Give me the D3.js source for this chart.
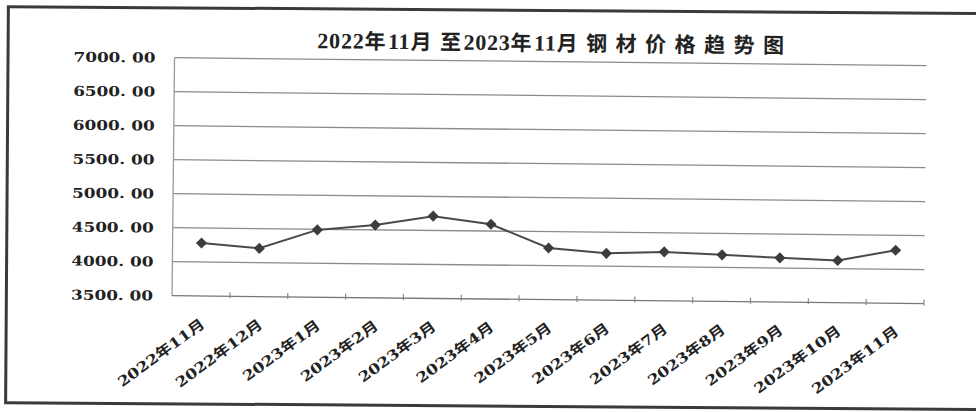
<!DOCTYPE html>
<html>
<head>
<meta charset="utf-8">
<script src="https://d3js.org/d3.v7.min.js"></script>
<style>
  body { margin: 0; background: #fff; }
  svg { display: block; }
</style>
</head>
<body>
<script>
// chart data
var title = "2022年11月至2023年11月钢材价格趋势图";
var months = ["2022年11月", "2022年12月", "2023年1月", "2023年2月", "2023年3月", "2023年4月",
  "2023年5月", "2023年6月", "2023年7月", "2023年8月", "2023年9月", "2023年10月", "2023年11月"];
var prices = [4280, 4210, 4490, 4570, 4710, 4600, 4260, 4190, 4220, 4185, 4150, 4120, 4280];
var yTicks = [3500, 4000, 4500, 5000, 5500, 6000, 6500, 7000];

var width = 976, height = 412;
var svg = d3.select("body").append("svg").attr("width", width).attr("height", height);

//the scanned page is a little crooked
var frame = svg.append("g").attr("transform", "rotate(0.4 488 206)");
frame.append("rect")
  .attr("x", 7).attr("y", 10).attr("width", 1100).attr("height", 396)
  .attr("fill", "none").attr("stroke", "#3a3a3a").attr("stroke-width", 3);

var g = svg.append("g").attr("transform", "rotate(0.6 488 206)");

var x = d3.scaleBand().domain(months).range([173, 925]);
var y = d3.scaleLinear().domain([3500, 7000]).range([299, 61]);

//gridlines
g.selectAll(".grid").data(yTicks.slice(1)).enter().append("line")
  .attr("x1", 173).attr("x2", 925)
  .attr("y1", function(d) { return y(d); }).attr("y2", function(d) { return y(d); })
  .attr("stroke", "#8c8c8c").attr("stroke-width", 1.3);

//axes lines
g.append("line").attr("x1", 173).attr("x2", 173).attr("y1", y(7000)).attr("y2", y(3500))
  .attr("stroke", "#9a9a9a").attr("stroke-width", 1.3);
g.append("line").attr("x1", 173).attr("x2", 925).attr("y1", y(3500)).attr("y2", y(3500))
  .attr("stroke", "#777").attr("stroke-width", 1.3);

//ticks between categories
var bounds = months.map(function(m) { return x(m) + x.bandwidth(); });
g.selectAll(".tick").data(bounds).enter().append("line")
  .attr("x1", function(d) { return d; }).attr("x2", function(d) { return d; })
  .attr("y1", y(3500) - 4).attr("y2", y(3500) + 2)
  .attr("stroke", "#888").attr("stroke-width", 1.2);

//y labels, the font in the scan is very wide
g.selectAll(".ylab").data(yTicks).enter().append("text")
  .attr("x", 154).attr("y", function(d) { return y(d); })
  .attr("dy", "0.37em")
  .attr("text-anchor", "end")
  .attr("textLength", 82).attr("lengthAdjust", "spacingAndGlyphs")
  .attr("font-family", "'DejaVu Serif', serif").attr("font-weight", "bold")
  .attr("font-size", 13.5).attr("fill", "#222")
  .text(function(d) { return d3.format(".2f")(d).replace(".", ". "); });

//x labels
g.selectAll(".xlab").data(months).enter().append("text")
  .attr("transform", function(d) {
    return "translate(" + (x(d) + x.bandwidth() / 2 + 5) + "," + 329 + ") rotate(-37) scale(1.2,1)";
  })
  .attr("text-anchor", "end")
  .attr("font-family", "'DejaVu Serif', 'Noto Sans CJK SC', serif").attr("font-weight", "bold")
  .attr("font-size", 14).attr("fill", "#222")
  .text(function(d) { return d; });

//title: digits narrow, cjk spaced out but tight next to digits
var t = g.append("text").attr("x", 549).attr("y", 50).attr("text-anchor", "middle")
  .attr("font-weight", "bold").attr("fill", "#222");
var runs = title.match(/\d+|\D+/g);
runs.forEach(function(run, k) {
  if (/\d/.test(run)) {
    t.append("tspan").attr("font-family", "'Liberation Serif', serif")
      .attr("font-size", 22).attr("letter-spacing", 0.8).text(run);
  } else {
    var last = k == runs.length - 1;
    var head = run.slice(0, -1), tail = run.slice(-1);
    if (head) {
      t.append("tspan").attr("font-family", "'Noto Sans CJK SC', sans-serif")
        .attr("font-size", 21).attr("letter-spacing", 8.5).text(head);
    }
    t.append("tspan").attr("font-family", "'Noto Sans CJK SC', sans-serif")
      .attr("font-size", 21).attr("letter-spacing", last ? 0 : 2.5).text(tail);
  }
});

//price line
var line = d3.line()
  .x(function(d, i) { return x(months[i]) + x.bandwidth() / 2; })
  .y(function(d) { return y(d); });
g.append("path").datum(prices).attr("d", line)
  .attr("fill", "none").attr("stroke", "#4a4a4a").attr("stroke-width", 2);

g.selectAll(".pt").data(prices).enter().append("path")
  .attr("d", d3.symbol().type(d3.symbolSquare).size(62))
  .attr("transform", function(d, i) {
    return "translate(" + (x(months[i]) + x.bandwidth() / 2) + "," + y(d) + ") rotate(45)";
  })
  .attr("fill", "#3c3c3c");
</script>
</body>
</html>
